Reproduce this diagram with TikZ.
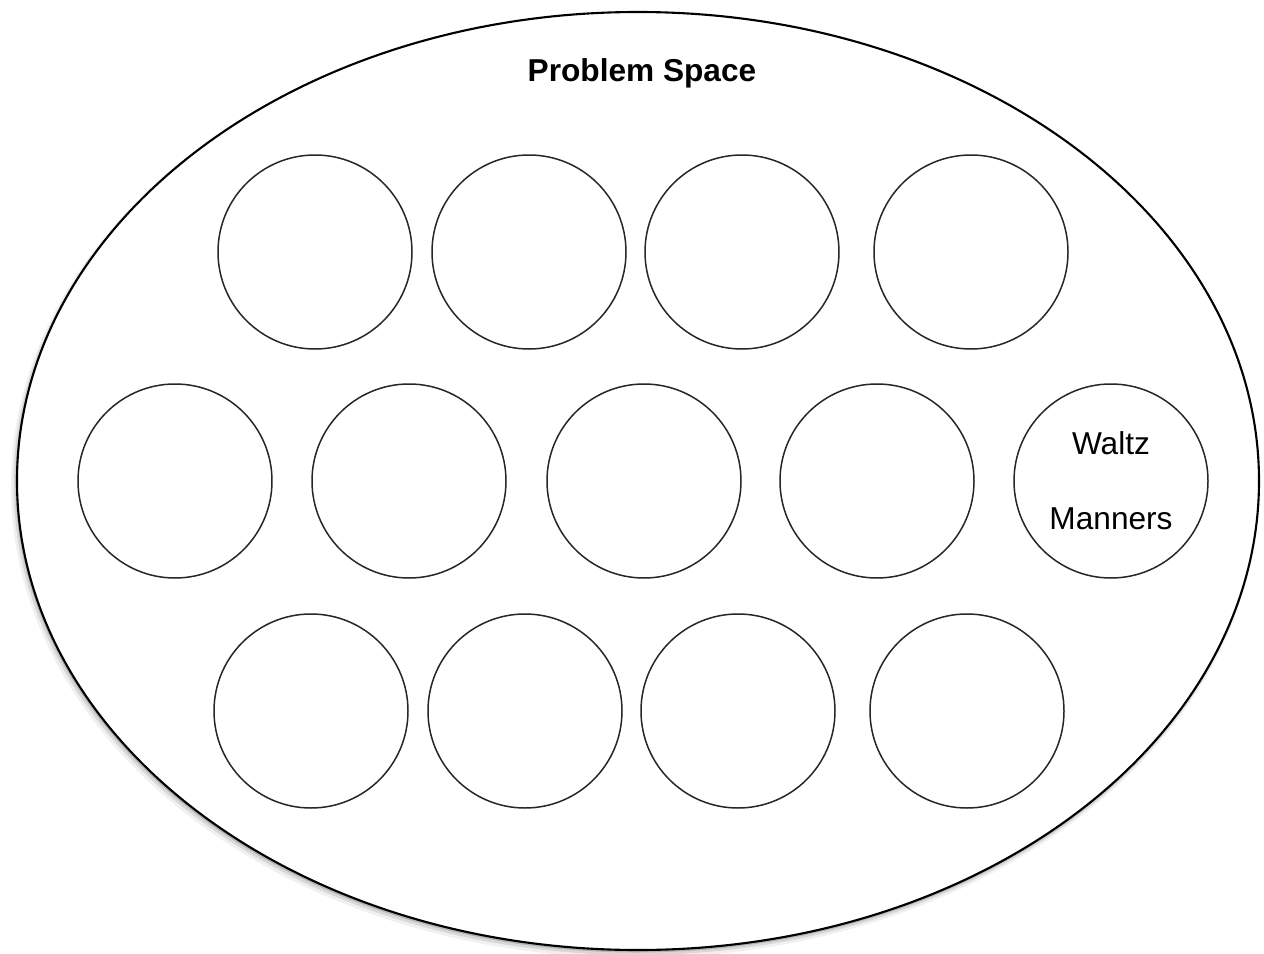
\documentclass[tikz,border=0pt]{standalone}
\usepackage{fontspec}
\setmainfont{Liberation Sans}
\usetikzlibrary{positioning, shapes.geometric}

\begin{document}
\begin{tikzpicture}[every node/.style={font=\fontsize{18}{21.6}\selectfont},
    slot/.style={circle, draw=black!85, line width=0.85pt, fill=white,
                 inner sep=0pt, minimum size=3.88cm}]
  \useasboundingbox (0,0) rectangle (25.28,-19.08);
  % soft shadow of the outer region
  \fill[black, opacity=0.06] (12.70,-9.72) ellipse [x radius=12.48, y radius=9.44];
  \fill[black, opacity=0.10] (12.72,-9.69) ellipse [x radius=12.45, y radius=9.41];
  \fill[black, opacity=0.16] (12.74,-9.66) ellipse [x radius=12.43, y radius=9.39];
  \node[ellipse, draw, fill=white, line width=1.2pt, minimum width=24.84cm,
        minimum height=18.76cm, inner sep=0pt] (space) at (12.76,-9.62) {};
  \node[font=\fontsize{18}{21.6}\selectfont\bfseries] (title) at (12.84,-1.46) {Problem Space};
  % top row
  \node[slot] (t1) at (6.30,-5.04) {};
  \node[slot] (t2) at (10.58,-5.04) {};
  \node[slot] (t3) at (14.84,-5.04) {};
  \node[slot] (t4) at (19.42,-5.04) {};
  % middle row
  \node[slot] (m1) at (3.50,-9.62) {};
  \node[slot] (m2) at (8.18,-9.62) {};
  \node[slot] (m3) at (12.88,-9.62) {};
  \node[slot] (m4) at (17.54,-9.62) {};
  \node[slot, align=center] (waltz) at (22.22,-9.62) {Waltz\\[21pt]Manners};
  % bottom row
  \node[slot] (b1) at (6.22,-14.22) {};
  \node[slot] (b2) at (10.50,-14.22) {};
  \node[slot] (b3) at (14.76,-14.22) {};
  \node[slot] (b4) at (19.34,-14.22) {};
\end{tikzpicture}
\end{document}
